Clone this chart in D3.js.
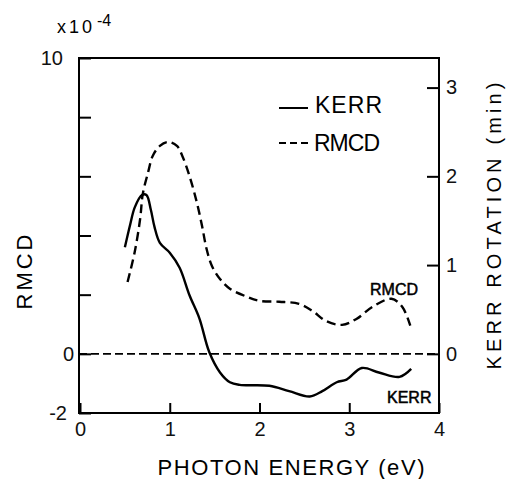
<!DOCTYPE html>
<html>
<head>
<meta charset="utf-8">
<style>
body {
  margin: 0;
  background: #fff;
}
svg {
  font-family: "Liberation Sans", Arial, sans-serif;
  fill: #000;
}
.axis path {
  display: none;
}
.axis line {
  stroke: #000;
  stroke-width: 2;
}
.axis text {
  font-size: 20px;
  fill: #111;
}
.frame {
  fill: none;
  stroke: #000;
  stroke-width: 2;
}
.curve {
  fill: none;
  stroke: #000;
  stroke-width: 2.4;
}
</style>
</head>
<body>
<script src="https://d3js.org/d3.v7.min.js"></script>
<script>

// RMCD, in units of 1e-4 (left axis)
var rmcdEnergy = [0.53, 0.61, 0.67, 0.70, 0.76, 0.81, 0.89, 0.98, 1.08, 1.14, 1.22, 1.30, 1.36, 1.41,
                  1.47, 1.56, 1.67, 1.86, 2.00, 2.22, 2.44, 2.59, 2.74, 2.92, 3.08, 3.26, 3.47, 3.59, 3.68];
var rmcdValue = [2.43, 3.45, 4.56, 5.41, 6.15, 6.69, 7.03, 7.16, 7.03, 6.69, 6.01, 5.14, 4.32, 3.55,
                 2.97, 2.53, 2.20, 1.93, 1.79, 1.76, 1.69, 1.45, 1.11, 0.98, 1.18, 1.59, 1.86, 1.59, 0.95];

// Kerr rotation, minutes (right axis)
var kerrEnergy = [0.50, 0.56, 0.61, 0.69, 0.74, 0.79, 0.83, 0.89, 1.00, 1.11, 1.22, 1.33, 1.44,
                  1.56, 1.67, 1.78, 2.11, 2.33, 2.56, 2.70, 2.86, 2.97, 3.14, 3.33, 3.56, 3.69];
var kerrValue = [1.20, 1.46, 1.65, 1.79, 1.79, 1.62, 1.43, 1.25, 1.14, 0.97, 0.66, 0.40, 0.02,
                 -0.21, -0.32, -0.35, -0.36, -0.42, -0.48, -0.42, -0.32, -0.29, -0.16, -0.21, -0.26, -0.17];

var xTicks = [0, 1, 2, 3, 4];
var leftTicks = [-2, 0, 2, 4, 6, 8, 10];
var leftLabels = [-2, 0, 10];
var rightTicks = [0, 1, 2, 3];

var plotL = 79, plotR = 439, plotT = 58, plotB = 413;

var x = d3.scaleLinear().domain([0, 4]).range([80, plotR]);
var yL = d3.scaleLinear().domain([-2, 10]).range([plotB, plotT]);
var yR = d3.scaleLinear().domain([-2 / 3, 10 / 3]).range([plotB, plotT]);

var svg = d3.select("body").append("svg")
    .attr("width", 506)
    .attr("height", 479);

// inward ticks
svg.append("g")
    .attr("class", "axis")
    .attr("transform", "translate(0," + plotB + ")")
    .call(d3.axisBottom(x).tickValues(xTicks).tickSize(-10).tickPadding(9).tickFormat(d3.format("d")));

svg.append("g")
    .attr("class", "axis")
    .attr("transform", "translate(" + plotL + ",0)")
    .call(d3.axisLeft(yL).tickValues(leftTicks).tickSize(-12).tickPadding(5)
      .tickFormat(function(d) { return leftLabels.indexOf(d) >= 0 ? (d < 0 ? "-" + (-d) : d) : ""; }))
    .selectAll("text")
    .attr("dx", function(d) { return d == 10 ? -11 : (d == -2 ? -7 : 0); });

svg.append("g")
    .attr("class", "axis")
    .attr("transform", "translate(" + plotR + ",0)")
    .call(d3.axisRight(yR).tickValues(rightTicks).tickSize(-12).tickPadding(7).tickFormat(d3.format("d")));

svg.append("rect")
    .attr("class", "frame")
    .attr("x", plotL)
    .attr("y", plotT)
    .attr("width", plotR - plotL)
    .attr("height", plotB - plotT);

// zero line
svg.append("line")
    .attr("x1", plotL).attr("x2", plotR)
    .attr("y1", yL(0)).attr("y2", yL(0))
    .attr("stroke", "#000")
    .attr("stroke-width", 1.6)
    .attr("stroke-dasharray", "8,4");

var rmcdLine = d3.line()
    .x(function(d, i) { return x(rmcdEnergy[i]); })
    .y(function(d) { return yL(d); })
    .curve(d3.curveCatmullRom.alpha(0.5));

var kerrLine = d3.line()
    .x(function(d, i) { return x(kerrEnergy[i]); })
    .y(function(d) { return yR(d); })
    .curve(d3.curveCatmullRom.alpha(0.5));

svg.append("path")
    .attr("class", "curve")
    .attr("stroke-dasharray", "9,5")
    .attr("d", rmcdLine(rmcdValue));

svg.append("path")
    .attr("class", "curve")
    .attr("d", kerrLine(kerrValue));

// legend
svg.append("line")
    .attr("x1", 279).attr("x2", 308).attr("y1", 108).attr("y2", 108)
    .attr("stroke", "#000").attr("stroke-width", 2);
svg.append("line")
    .attr("x1", 279).attr("x2", 308).attr("y1", 143).attr("y2", 143)
    .attr("stroke", "#000").attr("stroke-width", 2).attr("stroke-dasharray", "7,4");
svg.append("text").attr("x", 315).attr("y", 113).style("font-size", "23px")
    .attr("textLength", 67).attr("lengthAdjust", "spacing").text("KERR");
svg.append("text").attr("x", 314).attr("y", 151).style("font-size", "23px")
    .attr("textLength", 66).attr("lengthAdjust", "spacing").text("RMCD");

// curve labels
svg.append("text").attr("x", 370).attr("y", 295)
    .style("font-size", "16px").attr("stroke", "#000").attr("stroke-width", 0.5).text("RMCD");
svg.append("text").attr("x", 387).attr("y", 403)
    .style("font-size", "16px").attr("stroke", "#000").attr("stroke-width", 0.5).text("KERR");

// multiplier
svg.append("text").attr("x", 57).attr("y", 33).style("font-size", "18px")
    .attr("textLength", 35).attr("lengthAdjust", "spacing").text("x10");
svg.append("text").attr("x", 97).attr("y", 26).style("font-size", "16px").text("-4");

// axis titles
svg.append("text")
    .attr("x", 291).attr("y", 475)
    .attr("text-anchor", "middle")
    .style("font-size", "22px")
    .attr("textLength", 267).attr("lengthAdjust", "spacing")
    .text("PHOTON ENERGY (eV)");

svg.append("text")
    .attr("transform", "translate(32,272) rotate(-90)")
    .attr("text-anchor", "middle")
    .style("font-size", "22px")
    .attr("textLength", 75).attr("lengthAdjust", "spacing")
    .text("RMCD");

svg.append("text")
    .attr("transform", "translate(501,226) rotate(-90)")
    .attr("text-anchor", "middle")
    .style("font-size", "20px")
    .attr("textLength", 287).attr("lengthAdjust", "spacing")
    .text("KERR ROTATION (min)");

</script>
</body>
</html>
